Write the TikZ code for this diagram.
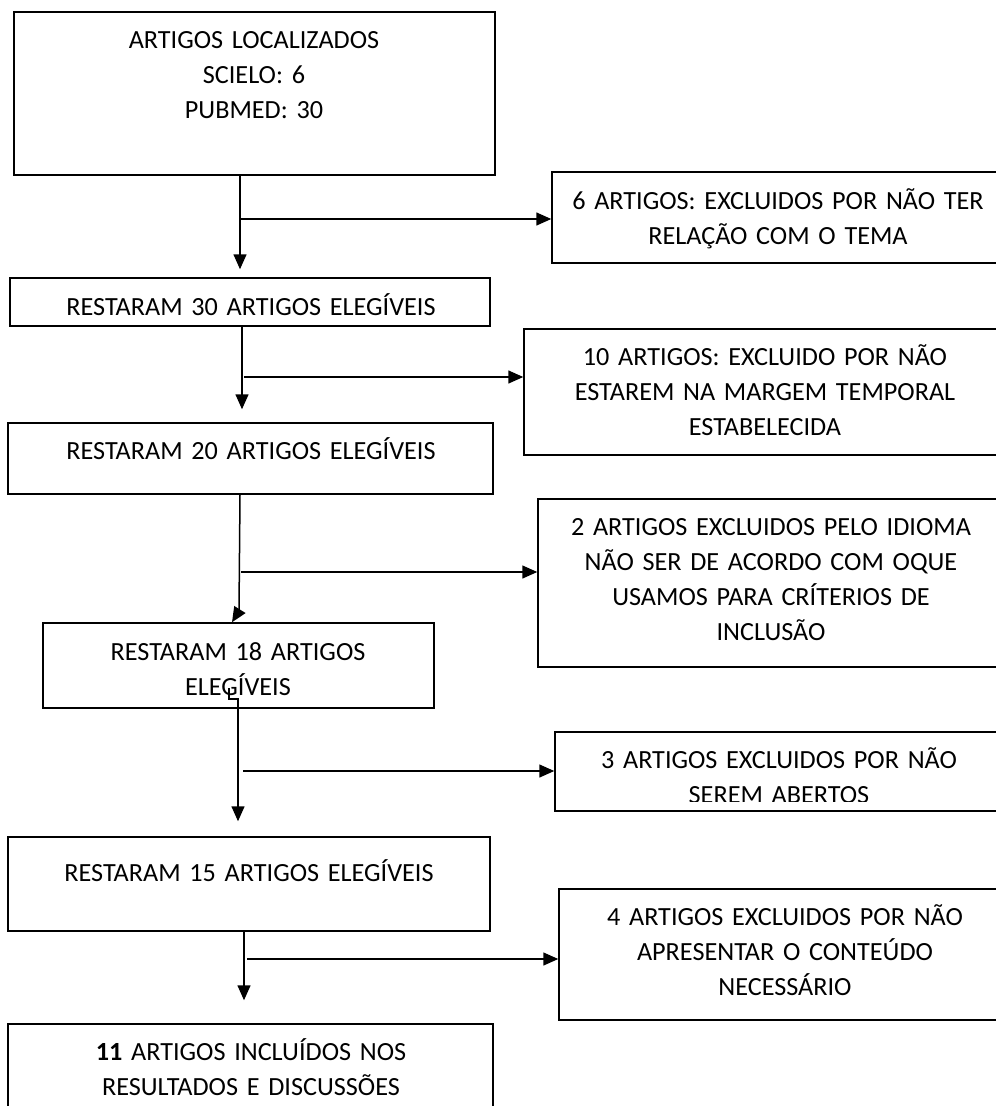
\documentclass[tikz,border=0pt]{standalone}
\usepackage{fontspec}
\setmainfont{Carlito}
\usetikzlibrary{arrows.meta}
\begin{document}
\begin{tikzpicture}[x=1pt,y=-1pt,
  box/.style={draw=black,line width=1.5pt,rectangle,inner sep=0pt},
  txt/.style={inner sep=0pt,anchor=base,align=center,text width=470pt,
    font=\fontsize{26.2}{35}\selectfont},
  arr/.style={line width=1.5pt,-{Triangle[length=15pt,width=13pt]}},
  ln/.style={line width=1.5pt}]
\useasboundingbox (0,0) rectangle (996,1106);
\clip (0,0) rectangle (996,1106);
\fill[white] (0,0) rectangle (996,1106);
% main column boxes
\node[box,minimum width=481pt,minimum height=163pt] (b1) at (254.5,93.5) {};
\node[box,minimum width=480pt,minimum height=48pt] (b2) at (250,302) {};
\node[box,minimum width=485pt,minimum height=71pt] (b3) at (250.5,458.5) {};
\node[box,minimum width=391pt,minimum height=85pt] (b4) at (238.5,665.5) {};
\node[box,minimum width=482pt,minimum height=94pt] (b5) at (249,884) {};
\node[box,minimum width=485pt,minimum height=106pt] (b6) at (250.5,1077) {};
% exclusion boxes
\node[box,minimum width=458pt,minimum height=91pt] (r1) at (781,217.5) {};
\node[box,minimum width=486pt,minimum height=126pt] (r2) at (767,392) {};
\node[box,minimum width=472pt,minimum height=168pt] (r3) at (774,583) {};
\node[box,minimum width=455pt,minimum height=79pt] (r4) at (782.5,771.5) {};
\node[box,minimum width=451pt,minimum height=131pt] (r5) at (784.5,954.5) {};
% texts
\node[txt] (t1) at (254,48) {ARTIGOS LOCALIZADOS\\SCIELO: 6\\PUBMED: 30};
\node[txt] (t2) at (251,315) {RESTARAM 30 ARTIGOS ELEGÍVEIS};
\node[txt] (t3) at (251,459) {RESTARAM 20 ARTIGOS ELEGÍVEIS};
\node[txt] (t4) at (238,660) {RESTARAM 18 ARTIGOS\\ELEGÍVEIS};
\node[txt] (t5) at (249,881) {RESTARAM 15 ARTIGOS ELEGÍVEIS};
\node[txt] (t6) at (251,1060) {\textbf{11} ARTIGOS INCLUÍDOS NOS\\RESULTADOS E DISCUSSÕES};
\node[txt] (s1) at (778,209) {6 ARTIGOS: EXCLUIDOS POR NÃO TER\\RELAÇÃO COM O TEMA};
\node[txt] (s2) at (765,365) {10 ARTIGOS: EXCLUIDO POR NÃO\\ESTAREM NA MARGEM TEMPORAL\\ESTABELECIDA};
\node[txt] (s3) at (771,535) {2 ARTIGOS EXCLUIDOS PELO IDIOMA\\NÃO SER DE ACORDO COM OQUE\\USAMOS PARA CRÍTERIOS DE\\INCLUSÃO};
\begin{scope}
\clip (555,732) rectangle (1010,801);
\node[txt] (s4) at (779,768) {3 ARTIGOS EXCLUIDOS POR NÃO\\SEREM ABERTOS};
\end{scope}
\node[txt] (s5) at (785,925) {4 ARTIGOS EXCLUIDOS POR NÃO\\APRESENTAR O CONTEÚDO\\NECESSÁRIO};
% junction points
\coordinate (j1) at (240,219);
\coordinate (j2) at (244,377);
\coordinate (j3) at (241,572);
\coordinate (j4) at (243,771);
\coordinate (j5) at (247,959);
% vertical connectors
\draw[arr,shorten >=8pt] (b1.south -| 240,0) -- (b2.north -| 240,0);
\draw[arr,shorten >=13pt] (b2.south -| 242,0) -- (b3.north -| 242,0);
\draw[arr] (b3.south -| 240,0) -- (239,611) -- (b4.north -| 232,0);
\draw[arr,shorten >=15pt] (229,688) -- (229,699) -- (238,699) -- (b5.north -| 238,0);
\draw[arr,shorten >=23pt] (b5.south -| 244,0) -- (b6.north -| 244,0);
% horizontal connectors
\draw[arr] (j1) -- (r1.west |- j1);
\draw[arr] (j2) -- (r2.west |- j2);
\draw[arr] (j3) -- (r3.west |- j3);
\draw[arr] (j4) -- (r4.west |- j4);
\draw[arr] (j5) -- (r5.west |- j5);
\end{tikzpicture}
\end{document}
